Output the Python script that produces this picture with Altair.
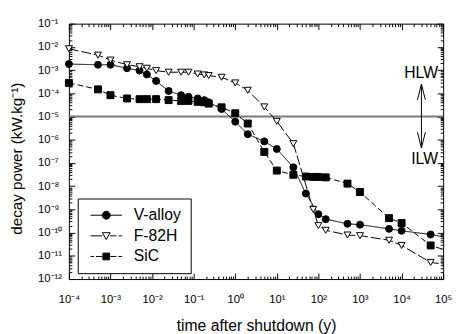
import math
import altair as alt
import pandas as pd

# ---------------- data ----------------
series_order = ["V-alloy", "F-82H", "SiC"]

v_times = [1e-4, 5e-4, 1e-3, 2.5e-3, 5e-3, 7.5e-3, 0.0125, 0.025, 0.05, 0.075, 0.125, 0.18, 0.23, 0.47,
           1, 2, 5, 10, 25, 50, 100, 150, 500, 1000, 5000, 1e4, 5e4, 1e5]
v_power = [1.82e-3, 1.70e-3, 1.70e-3, 1.20e-3, 9.5e-4, 6.5e-4, 3.4e-4, 1.26e-4, 8.3e-5, 7.1e-5, 6.0e-5,
           5.1e-5, 4.1e-5, 2.1e-5, 6.0e-6, 1.74e-6, 8.5e-7, 4.0e-7, 6.5e-8, 4.8e-9, 6.2e-10, 3.8e-10,
           2.4e-10, 2.2e-10, 1.45e-10, 1.2e-10, 8.3e-11, 6.6e-11]

f_times = [1e-4, 5e-4, 1e-3, 2.5e-3, 5e-3, 7.5e-3, 0.0125, 0.025, 0.05, 0.075, 0.125, 0.18, 0.23, 0.47,
           1, 2, 5, 10, 25, 75, 100, 150, 500, 1000, 5000, 1e4, 5e4, 1e5]
f_power = [8.3e-3, 4.4e-3, 2.7e-3, 1.7e-3, 1.4e-3, 1.2e-3, 9.5e-4, 8.1e-4, 8.1e-4, 8.1e-4, 6.8e-4, 6.2e-4,
           5.8e-4, 4.9e-4, 2.8e-4, 1.35e-4, 2.6e-5, 6.2e-6, 6.8e-7, 1.0e-9, 2.0e-10, 1.26e-10, 7.9e-11,
           7.4e-11, 4.7e-11, 2.8e-11, 5.2e-12, 4.4e-12]

s_times = [1e-4, 5e-4, 1e-3, 2.5e-3, 5e-3, 7.5e-3, 0.0125, 0.025, 0.05, 0.075, 0.125, 0.18, 0.23, 0.47,
           1, 2, 5, 10, 25, 50, 75, 100, 150, 500, 1000, 5000, 1e4, 5e4, 1e5]
s_power = [2.8e-4, 1.48e-4, 8.3e-5, 6.0e-5, 5.6e-5, 5.6e-5, 5.6e-5, 5.1e-5, 4.7e-5, 4.7e-5, 4.3e-5, 4.1e-5,
           3.6e-5, 2.5e-5, 1.38e-5, 5.0e-6, 3.0e-7, 4.7e-8, 3.1e-8, 2.6e-8, 2.5e-8, 2.5e-8, 2.4e-8,
           1.29e-8, 5.6e-9, 4.2e-10, 2.6e-10, 2.8e-11, 1.9e-11]

x_tick_values = [1e-4, 1e-3, 1e-2, 1e-1, 1e0, 1e1, 1e2, 1e3, 1e4, 1e5]
x_tick_labels = ["10⁻⁴", "10⁻³", "10⁻²", "10⁻¹", "10⁰", "10¹", "10²", "10³", "10⁴", "10⁵"]
y_tick_values = [1e-12, 1e-11, 1e-10, 1e-9, 1e-8, 1e-7, 1e-6, 1e-5, 1e-4, 1e-3, 1e-2, 1e-1]
y_tick_labels = ["10⁻¹²", "10⁻¹¹", "10⁻¹⁰", "10⁻⁹", "10⁻⁸", "10⁻⁷", "10⁻⁶", "10⁻⁵", "10⁻⁴",
                 "10⁻³", "10⁻²", "10⁻¹"]

limit_value = [1e-5]                       # HLW / ILW boundary
zone_labels = ["HLW", "ILW"]
zone_label_t = [7.5e4, 7.5e4]
zone_label_p = [4.5e-4, 9.1e-8]
arrow_t = [3.0e4, 3.0e4]
arrow_p = [2.5e-4, 4.4e-7]
arrow_dir = ["up", "down"]

# ---------------- tables ----------------
rows = []
for name, ts, ps in [("V-alloy", v_times, v_power), ("F-82H", f_times, f_power), ("SiC", s_times, s_power)]:
    for t, p in zip(ts, ps):
        rows.append({"t": t, "p": p, "series": name, "marker": t < 1e5})
df = pd.DataFrame(rows)

zone_df = pd.DataFrame({"t": zone_label_t, "p": zone_label_p, "label": zone_labels})
arrow_df = pd.DataFrame({"t": arrow_t, "p": arrow_p, "dir": arrow_dir})
arrow_line_df = pd.DataFrame({"t": [arrow_t[0]], "p": [arrow_p[0]], "p2": [arrow_p[1]]})
limit_df = pd.DataFrame({"p": limit_value})

# minor tick positions (2..9 x 10^k)
x_minor = [m * v for v in x_tick_values[:-1] for m in range(2, 10)]
y_minor = [m * v for v in y_tick_values[:-1] for m in range(2, 10)]

FONT = "Liberation Sans"


def label_expr(values, labels):
    expr = "''"
    for v, lab in reversed(list(zip(values, labels))):
        e = int(round(math.log10(v)))
        expr = f"round(log(datum.value)/LN10) == {e} ? '{lab}' : ({expr})"
    return expr


x_scale = alt.Scale(type="log", domain=[1e-4, 1e5], nice=False)
y_scale = alt.Scale(type="log", domain=[1e-12, 1e-1], nice=False)

x_label_axis = alt.Axis(orient="bottom", values=x_tick_values, labelExpr=label_expr(x_tick_values, x_tick_labels),
                        ticks=False, domain=False, grid=False, labelFont=FONT, labelFontSize=11.5,
                        labelColor="black", labelPadding=15, labelFlush=False, labelOverlap=False,
                        title="time after shutdown (y)", titleFont=FONT, titleFontSize=16,
                        titleFontWeight="normal", titleColor="black", titleX=190.5, titleY=52,
                        titleBaseline="alphabetic", titleAlign="center")
y_label_axis = alt.Axis(orient="left", values=y_tick_values, labelExpr=label_expr(y_tick_values, y_tick_labels),
                        ticks=False, domain=False, grid=False, labelFont=FONT, labelFontSize=11.5,
                        labelColor="black", labelPadding=32, labelAlign="left", labelFlush=False,
                        labelOverlap=False,
                        title="decay power (kW.kg⁻¹)", titleFont=FONT, titleFontSize=15.5,
                        titleFontWeight="normal", titleColor="black", titleX=-53.5, titleY=137,
                        titleAngle=270, titleBaseline="middle", titleAlign="center")


def tick_axis(orient, values, size):
    return alt.Axis(orient=orient, values=values, labels=False, domain=False, grid=False, ticks=True,
                    tickSize=size, tickColor="black", tickWidth=1, offset=-size, title=None)


legend_paths = [
    "M-4,0H-1M1,0H4M-1,0A1,1,0,1,0,1,0A1,1,0,1,0,-1,0Z",
    "M-4,0H-1M1,0H2.6M3.2,0H4M-1,-0.8L1,-0.8L0,0.95Z",
    "M-4,0H-3.1M-2.6,0H-1M1,0H2.6M3.1,0H4M-0.85,-0.85H0.85V0.85H-0.85Z",
]
legend = alt.Legend(orient="none", legendX=9, legendY=178, title=None, symbolSize=64, symbolOffset=12,
                    labelOffset=20, labelFont=FONT, labelFontSize=16, labelColor="black",
                    strokeColor="black", fillColor="white", padding=9, rowPadding=5,
                    symbolStrokeWidth=1, symbolOpacity=1)

base = alt.Chart(df)

lines = base.mark_line(color="black", strokeWidth=1).encode(
    x=alt.X("t:Q", scale=x_scale, axis=x_label_axis),
    y=alt.Y("p:Q", scale=y_scale, axis=y_label_axis),
    strokeDash=alt.StrokeDash("series:N", sort=series_order,
                              scale=alt.Scale(domain=series_order, range=[[1, 0], [10, 3], [6, 3]]),
                              legend=None),
    order="t:Q",
)

points = base.transform_filter("datum.marker").mark_point(filled=True, stroke="black", strokeWidth=1,
                                                          opacity=1, size=50).encode(
    x=alt.X("t:Q", scale=x_scale, axis=tick_axis("bottom", x_tick_values, 6)),
    y=alt.Y("p:Q", scale=y_scale, axis=tick_axis("left", y_tick_values, 6)),
    shape=alt.Shape("series:N", scale=alt.Scale(domain=series_order, range=["circle", "triangle-down", "square"]),
                    legend=None),
    fill=alt.Fill("series:N", scale=alt.Scale(domain=series_order, range=["black", "white", "black"]),
                  legend=None),
)

# legend-only layer: no rows are drawn, the explicit scale domains keep the legend entries
legend_layer = base.transform_filter("false").mark_point(filled=False, strokeWidth=1).encode(
    x=alt.X("t:Q", scale=x_scale, axis=tick_axis("bottom", x_minor, 3)),
    y=alt.Y("p:Q", scale=y_scale, axis=tick_axis("left", y_minor, 3)),
    shape=alt.Shape("series:N", scale=alt.Scale(domain=series_order, range=legend_paths), legend=legend),
    fill=alt.Fill("series:N", scale=alt.Scale(domain=series_order, range=["black", "white", "black"]),
                  legend=legend),
    stroke=alt.Stroke("series:N", scale=alt.Scale(domain=series_order, range=["black", "black", "black"]),
                      legend=legend),
)

limit_rule = alt.Chart(limit_df).mark_rule(color="#7a7a7a", strokeWidth=2).encode(
    y=alt.Y("p:Q", scale=y_scale, axis=None),
)

arrow_line = alt.Chart(arrow_line_df).mark_rule(color="black", strokeWidth=1).encode(
    x=alt.X("t:Q", scale=x_scale, axis=None),
    y=alt.Y("p:Q", scale=y_scale, axis=None),
    y2="p2:Q",
)

arrow_heads = alt.Chart(arrow_df).mark_point(filled=False, stroke="black", strokeWidth=1, size=64,
                                             opacity=1).encode(
    x=alt.X("t:Q", scale=x_scale, axis=tick_axis("top", x_tick_values, 6)),
    y=alt.Y("p:Q", scale=y_scale, axis=tick_axis("right", y_tick_values, 6)),
    shape=alt.Shape("dir:N", scale=alt.Scale(domain=["up", "down"],
                                             range=["M-1,4L0,0L1,4", "M-1,-4L0,0L1,-4"]), legend=None),
)

zone_text = alt.Chart(zone_df).mark_text(align="right", baseline="alphabetic", font=FONT, fontSize=16,
                                         color="black").encode(
    x=alt.X("t:Q", scale=x_scale, axis=tick_axis("top", x_minor, 3)),
    y=alt.Y("p:Q", scale=y_scale, axis=tick_axis("right", y_minor, 3)),
    text="label:N",
)

chart = alt.layer(limit_rule, lines, points, legend_layer, arrow_line, arrow_heads, zone_text).resolve_scale(
    shape="independent", fill="independent", stroke="independent"
).resolve_axis(
    x="independent", y="independent"
).properties(
    width=381, height=260,
    padding={"left": 62, "top": 13, "right": 9, "bottom": 53},
    autosize=alt.AutoSizeParams(type="none"),
    background="white",
).configure_view(stroke="black", strokeWidth=1)

chart.save("out.html", embed_options={"renderer": "svg", "actions": False})
